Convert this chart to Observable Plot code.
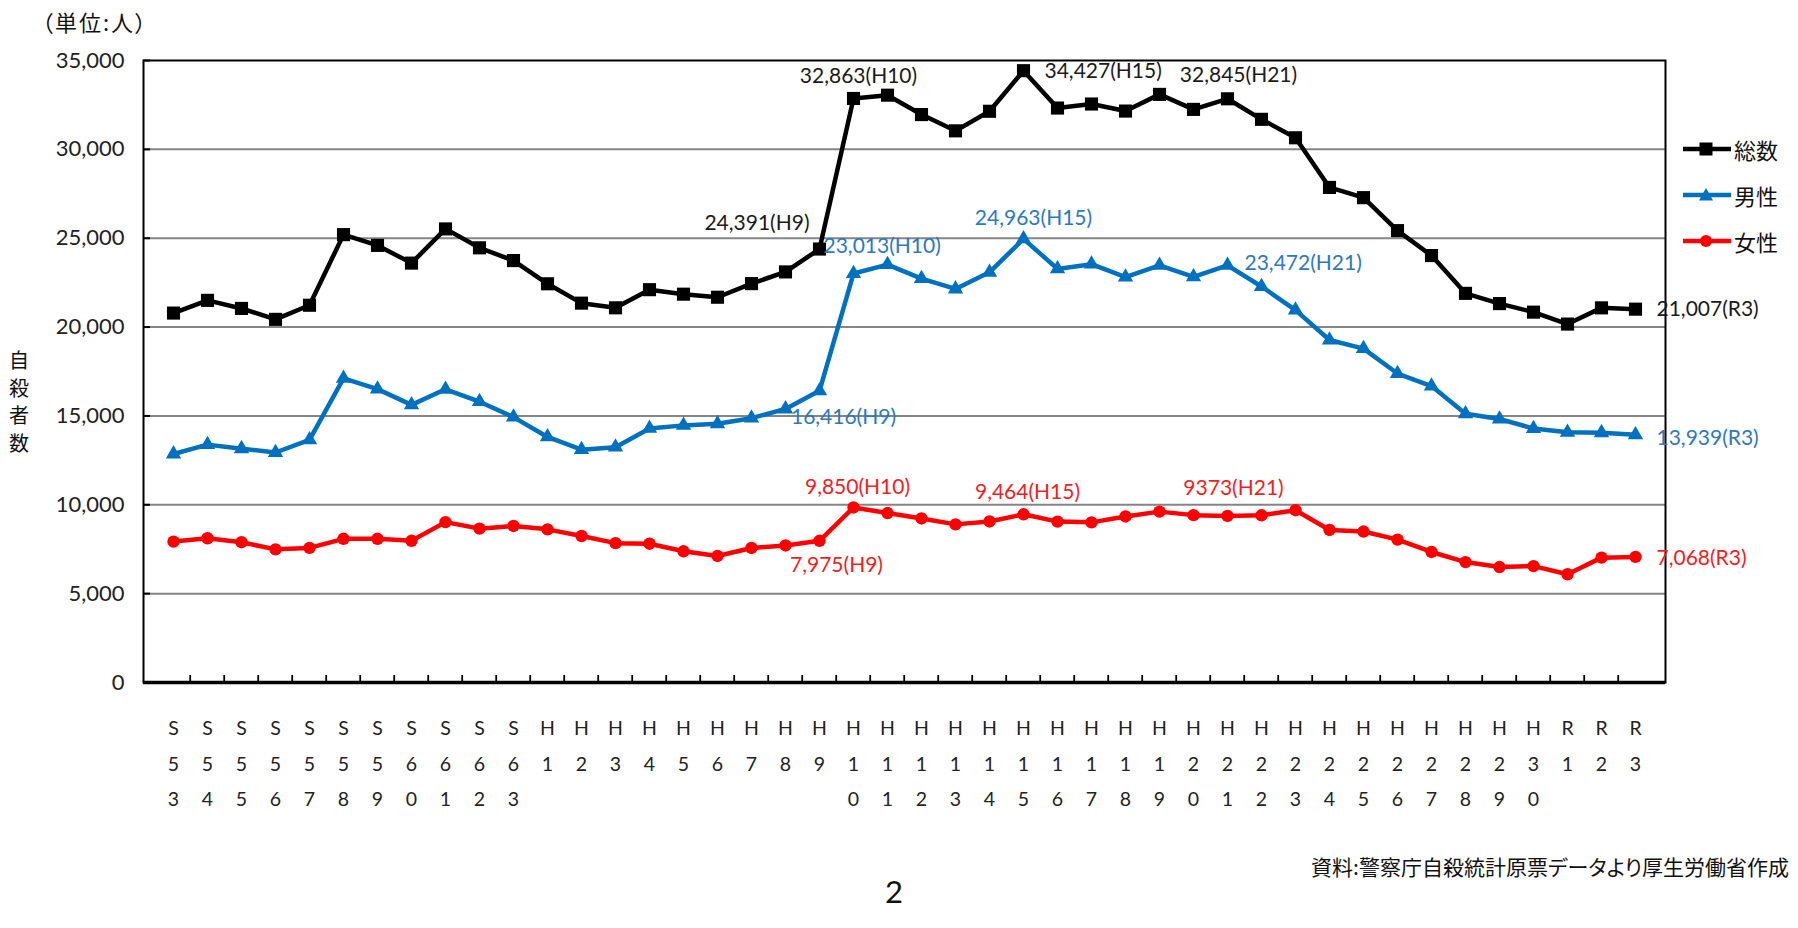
<!DOCTYPE html>
<html><head><meta charset="utf-8">
<script src="https://cdn.jsdelivr.net/npm/d3@7"></script>
<script src="https://cdn.jsdelivr.net/npm/@observablehq/plot@0.6"></script>
<style>
html,body{margin:0;padding:0;background:#fff;}
#wrap{position:relative;width:1798px;height:928px;overflow:hidden;font-family:Lato,"Noto Sans CJK JP",sans-serif;color:#111;}
#wrap svg.plot{position:absolute;left:0;top:0;}
.abs{position:absolute;white-space:nowrap;line-height:1;}
.jp{font-family:"Noto Sans CJK JP",sans-serif;}
</style></head><body><div id="wrap"></div>
<script>
// ---- data ----
const categories = ["S53","S54","S55","S56","S57","S58","S59","S60","S61","S62","S63",
  "H1","H2","H3","H4","H5","H6","H7","H8","H9","H10","H11","H12","H13","H14","H15","H16","H17","H18","H19","H20",
  "H21","H22","H23","H24","H25","H26","H27","H28","H29","H30","R1","R2","R3"];
const total = [20788,21503,21048,20434,21228,25202,24596,23599,25524,24460,23742,
  22436,21346,21084,22104,21851,21679,22445,23104,24391,32863,33048,31957,31042,32143,34427,32325,32552,32155,33093,32249,
  32845,31690,30651,27858,27283,25427,24025,21897,21321,20840,20169,21081,21007];
const male = [12859,13386,13155,12942,13654,17116,16508,15624,16499,15802,14934,
  13818,13102,13242,14296,14468,14560,14874,15393,16416,23013,23512,22727,22144,23080,24963,23272,23540,22813,23478,22831,
  23472,22283,20955,19273,18787,17386,16681,15121,14826,14290,14078,14055,13939];
const female = [7929,8117,7893,7492,7574,8086,8088,7975,9025,8658,8808,
  8618,8244,7842,7808,7383,7119,7571,7711,7975,9850,9536,9230,8898,9063,9464,9053,9012,9342,9615,9418,
  9373,9407,9696,8585,8496,8041,7344,6776,6495,6550,6091,7026,7068];
const yTicks = [0,5000,10000,15000,20000,25000,30000,35000];
const seriesNames = ["総数","男性","女性"];
const notes = [
  {series:"総数", cat:"H9",  label:"24,391(H9)"},
  {series:"総数", cat:"H10", label:"32,863(H10)"},
  {series:"総数", cat:"H15", label:"34,427(H15)"},
  {series:"総数", cat:"H21", label:"32,845(H21)"},
  {series:"総数", cat:"R3",  label:"21,007(R3)"},
  {series:"男性", cat:"H10", label:"23,013(H10)"},
  {series:"男性", cat:"H15", label:"24,963(H15)"},
  {series:"男性", cat:"H21", label:"23,472(H21)"},
  {series:"男性", cat:"H9",  label:"16,416(H9)"},
  {series:"男性", cat:"R3",  label:"13,939(R3)"},
  {series:"女性", cat:"H10", label:"9,850(H10)"},
  {series:"女性", cat:"H15", label:"9,464(H15)"},
  {series:"女性", cat:"H21", label:"9373(H21)"},
  {series:"女性", cat:"H9",  label:"7,975(H9)"},
  {series:"女性", cat:"R3",  label:"7,068(R3)"}
];

// ---- derived ----
const values = {"総数": total, "男性": male, "女性": female};
const rows = seriesNames.flatMap(s => categories.map((c, i) => ({series: s, cat: c, value: values[s][i]})));
const lineColor = {"総数": "#000000", "男性": "#0070C0", "女性": "#FF0000"};
const textColor = {"総数": "#1a1a1a", "男性": "#2E78BD", "女性": "#F01E1E"};
const symbolOf = {"総数": "square", "男性": "triangle", "女性": "circle"};
const rOf = {"総数": 7.4, "男性": 5.7, "女性": 6.2};
const noteRows = notes.map(n => ({...n, value: values[n.series][categories.indexOf(n.cat)]}));

const W = 1798, H = 928, ML = 143, MR = 133, MT = 60, MB = 246;
const innerW = W - ML - MR, innerH = H - MT - MB;
const step = innerW / categories.length;

const noteOpts = [
  {textAnchor:"end", dx:-10, dy:-26},
  {textAnchor:"middle", dx:5, dy:-22},
  {textAnchor:"start", dx:21, dy:1},
  {textAnchor:"middle", dx:11, dy:-24},
  {textAnchor:"start", dx:21, dy:0},
  {textAnchor:"start", dx:-30, dy:-27},
  {textAnchor:"middle", dx:10, dy:-21},
  {textAnchor:"start", dx:17, dy:-2},
  {textAnchor:"middle", dx:24, dy:27},
  {textAnchor:"start", dx:21, dy:3},
  {textAnchor:"middle", dx:4, dy:-20},
  {textAnchor:"middle", dx:4, dy:-22},
  {textAnchor:"middle", dx:6, dy:-28},
  {textAnchor:"middle", dx:17, dy:24},
  {textAnchor:"start", dx:21, dy:1}
];

const marks = [
  Plot.ruleY(yTicks.filter(d => d > 0 && d < 35000), {y: d => d, stroke: "#858585", strokeWidth: 2}),
  Plot.ruleY(yTicks, {y: d => d, stroke: "#000", strokeWidth: 2, insetRight: innerW - 7}),
  Plot.ruleX(categories.slice(1), {x: d => d, dx: -step / 2, stroke: "#000", strokeWidth: 1.8, insetTop: innerH - 7}),
  Plot.frame({stroke: "#000", strokeWidth: 2}),
  Plot.ruleY([0], {y: d => d, stroke: "#000", strokeWidth: 3.5}),
  Plot.text(yTicks, {y: d => d, text: d => d3.format(",")(d), frameAnchor: "left", textAnchor: "end", dx: -19, fontSize: 22, fill: "#222"}),
  Plot.text(categories, {x: d => d, text: d => [...d].join("\n"), frameAnchor: "bottom", lineAnchor: "top", dy: 28, lineHeight: 1.8, fontSize: 19.5, fill: "#222"}),
];
for (const s of seriesNames) {
  const data = rows.filter(r => r.series === s);
  marks.push(Plot.line(data, {x: "cat", y: "value", stroke: lineColor[s], strokeWidth: 4.5, strokeLinejoin: "round"}));
  marks.push(Plot.dot(data, {x: "cat", y: "value", symbol: symbolOf[s], r: rOf[s], fill: lineColor[s], stroke: "none"}));
}
noteRows.forEach((n, i) => {
  marks.push(Plot.text([n], {x: "cat", y: "value", text: "label", fill: textColor[n.series], fontSize: 21, ...noteOpts[i]}));
});

const chart = Plot.plot({
  width: W, height: H,
  marginLeft: ML, marginRight: MR, marginTop: MT, marginBottom: MB,
  x: {type: "point", domain: categories, padding: 0.5, axis: null},
  y: {domain: [0, 35000], axis: null},
  style: {fontFamily: 'Lato, "Noto Sans CJK JP", sans-serif', background: "white", overflow: "visible"},
  marks
});
const wrap = document.getElementById("wrap");
wrap.appendChild(chart);

function addText(html, style, cls) {
  const d = document.createElement("div");
  d.className = "abs " + (cls || "");
  d.innerHTML = html;
  Object.assign(d.style, style);
  wrap.appendChild(d);
  return d;
}
addText("（単位:人）", {left: "42px", top: "10px", fontSize: "22px", fontFeatureSettings: '"palt"', letterSpacing: "2px"}, "jp");
addText("自<br>殺<br>者<br>数", {left: "0px", top: "346px", width: "38px", textAlign: "center", fontSize: "20px", lineHeight: "27.5px", whiteSpace: "normal"}, "jp");
addText("資料:警察庁自殺統計原票データより厚生労働省作成", {right: "9px", top: "856px", fontSize: "21px", fontFeatureSettings: '"palt"'}, "jp");
addText("2", {left: "844px", width: "100px", textAlign: "center", top: "876px", fontSize: "31px"});

// legend
const legY = [147, 193, 239];
seriesNames.forEach((s, i) => {
  const c = lineColor[s];
  let sym;
  if (symbolOf[s] === "square") sym = `<rect x="17.5" y="4.5" width="13" height="13" fill="${c}"/>`;
  else if (symbolOf[s] === "triangle") sym = `<polygon points="24,4 31,16.5 17,16.5" fill="${c}"/>`;
  else sym = `<circle cx="24" cy="11" r="6" fill="${c}"/>`;
  const svg = `<svg width="50" height="22" style="vertical-align:middle"><line x1="1" y1="11" x2="49" y2="11" stroke="${c}" stroke-width="4.5"/>${sym}</svg>`;
  addText(svg + `<span class="jp" style="font-size:22px;vertical-align:middle;margin-left:2px">${s}</span>`,
    {left: "1682px", top: (legY[i] - 13) + "px", lineHeight: "26px"});
});
</script></body></html>
